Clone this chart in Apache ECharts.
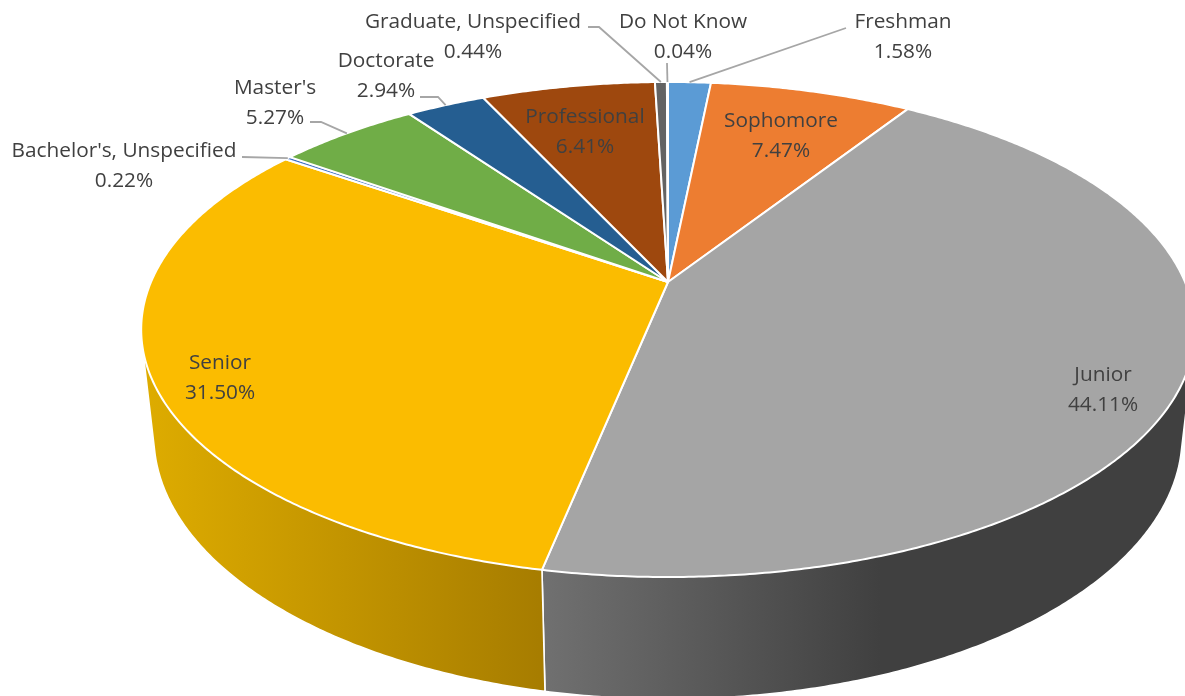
<!DOCTYPE html>
<html><head><meta charset="utf-8">
<style>html,body{margin:0;padding:0;background:#fff}#c{width:1185px;height:696px}</style>
<script src="https://cdn.jsdelivr.net/npm/echarts@6/dist/echarts.min.js"></script>
</head><body><div id="c"></div>
<script>
// ---- data ----
const categories = ['Freshman','Sophomore','Junior','Senior',"Bachelor's, Unspecified","Master's",'Doctorate','Professional','Graduate, Unspecified','Do Not Know'];
const shares = [1.58,7.47,44.11,31.50,0.22,5.27,2.94,6.41,0.44,0.04];

// ---- styles ----
const topColors = ['#5B9BD5','#ED7D31','#A5A5A5','#FBBC00','#4472C4','#70AD47','#255E91','#9E480E','#636363','#997300'];
const sideStops = {
  2:[545,880,'#707070','#404040'],
  3:[143,547,'#DEAC00','#A67C00']
};

// ---- layout: projection of the disc and placing of the label text ----
const persp = 0.192;
const topPlane = {cx:668, cy:282, a:517, b:238.4};
const lowPlane = {cx:668, cy:385.5, a:504.6, b:253.3};
const labelLayout = [
  {x:903,y:37,elbow:[846,28]},
  {x:781,y:136},
  {x:1103,y:390},
  {x:220,y:378},
  {x:124,y:166,from:[242,157],elbow:[242,157]},
  {x:275,y:103,from:[310,122],elbow:[321,122]},
  {x:386,y:76,from:[420,97],elbow:[438,97]},
  {x:585,y:132},
  {x:473,y:37,from:[588,27],elbow:[599,27]},
  {x:683,y:37,from:[667,63]}
];

const total = shares.reduce((s,v)=>s+v,0);
const starts = shares.map((_,i)=>shares.slice(0,i).reduce((s,v)=>s+v,0)/total*Math.PI*2);

function project(plane,t){
  const w = 1+persp*Math.cos(t);
  return [plane.cx+plane.a*Math.sin(t)/w, plane.cy-plane.b*Math.cos(t)/w];
}
function arc(plane,t0,t1){
  const n = Math.max(2,Math.ceil((t1-t0)/0.008));
  const pts=[];
  for(let i=0;i<=n;i++) pts.push(project(plane,t0+(t1-t0)*i/n));
  return pts;
}
// Outline of the wall swept between the two rims of a slice.
function hull(points){
  const p=points.slice().sort((a,b)=>a[0]-b[0]||a[1]-b[1]);
  const cross=(o,a,b)=>(a[0]-o[0])*(b[1]-o[1])-(a[1]-o[1])*(b[0]-o[0]);
  const half=list=>{
    const h=[];
    for(const q of list){
      while(h.length>=2&&cross(h[h.length-2],h[h.length-1],q)<=0) h.pop();
      h.push(q);
    }
    h.pop();
    return h;
  };
  return half(p).concat(half(p.slice().reverse()));
}
function sliceRange(i,value){
  const t0=starts[i];
  return [t0,t0+value/total*Math.PI*2];
}
function renderSide(params,api){
  const i=params.dataIndex, [t0,t1]=sliceRange(i,api.value(1));
  const stops=sideStops[i];
  if(!stops) return {type:'group',children:[]};
  const pts=hull(arc(topPlane,t0,t1).concat(arc(lowPlane,t0,t1)));
  return {type:'polygon',silent:true,shape:{points:pts},style:{
    fill:new echarts.graphic.LinearGradient(stops[0],0,stops[1],0,[{offset:0,color:stops[2]},{offset:1,color:stops[3]}],true),
    stroke:'#fff',lineWidth:1.6,lineJoin:'round'}};
}
function renderTop(params,api){
  const i=params.dataIndex, [t0,t1]=sliceRange(i,api.value(1));
  const pts=[[topPlane.cx,topPlane.cy]].concat(arc(topPlane,t0,t1));
  return {type:'polygon',silent:true,shape:{points:pts},style:{fill:topColors[i],stroke:'#fff',lineWidth:2,lineJoin:'round'}};
}
function renderLabel(params,api){
  const i=params.dataIndex, [t0,t1]=sliceRange(i,api.value(1));
  const L=labelLayout[i], children=[];
  if(L.elbow||L.from){
    const rim=project(topPlane,(t0+t1)/2);
    const pts=[];
    if(L.from) pts.push(L.from);
    if(L.elbow&&L.elbow!==L.from) pts.push(L.elbow);
    pts.push(rim);
    children.push({type:'polyline',silent:true,shape:{points:pts},style:{fill:null,stroke:'#A6A6A6',lineWidth:1.8}});
  }
  children.push({type:'text',silent:true,style:{
    text:categories[i]+'\n'+api.value(1).toFixed(2)+'%',
    x:L.x,y:L.y,align:'center',verticalAlign:'middle',
    fill:'#404040',fontFamily:'Open Sans',fontSize:20.8,lineHeight:30}});
  return {type:'group',children};
}
const rows=shares.map((v,i)=>[i,v]);
const chart=echarts.init(document.getElementById('c'),null,{renderer:'canvas'});
chart.setOption({
  animation:false,
  backgroundColor:'#fff',
  series:[
    {type:'custom',name:'side',coordinateSystem:'none',data:rows,renderItem:renderSide,z:1},
    {type:'custom',name:'top',coordinateSystem:'none',data:rows,renderItem:renderTop,z:2},
    {type:'custom',name:'labels',coordinateSystem:'none',data:rows,renderItem:renderLabel,z:3}
  ]
});
</script></body></html>
